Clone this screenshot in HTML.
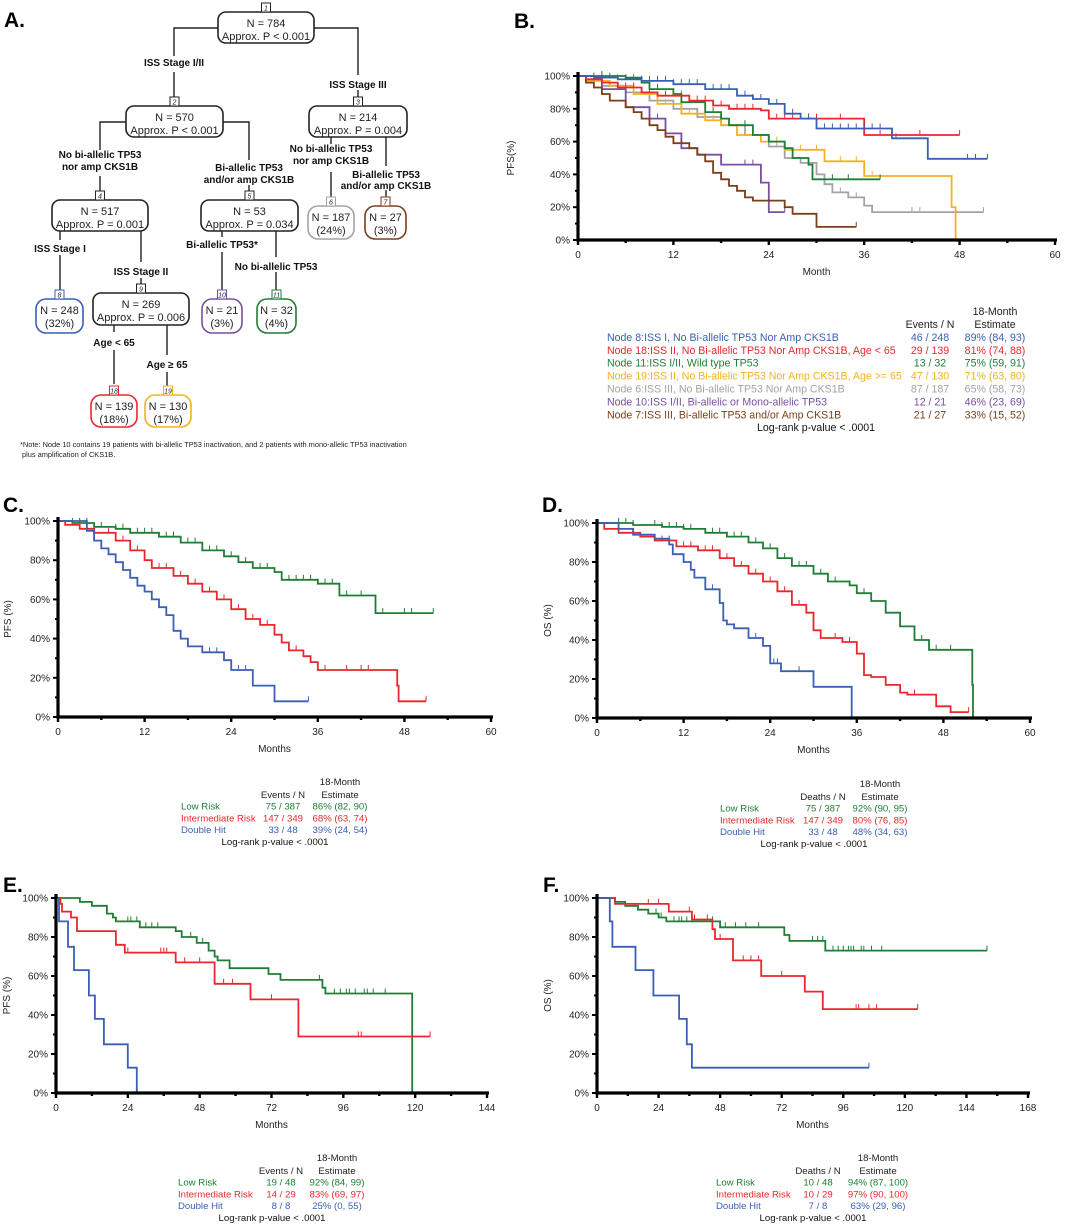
<!DOCTYPE html>
<html><head><meta charset="utf-8"><style>
html,body{margin:0;padding:0;background:#fff;}
svg{display:block;font-family:"Liberation Sans",Arial,sans-serif;}
.nb{font-size:11px;fill:#222;}
.bl{font-size:10px;font-weight:bold;fill:#111;}
.tk{font-size:10px;fill:#222;}
.lg{font-size:9.6px;}
.pl{font-size:21px;font-weight:bold;fill:#000;}
</style></head><body>
<svg id="fig" width="1080" height="1224" viewBox="0 0 1080 1224">
<g id="tree" stroke="#222" stroke-width="1.4" fill="none"></g>
<g id="charts"></g>
<text class="pl" x="4" y="27">A.</text>
<text class="pl" x="514" y="28">B.</text>
<text class="pl" x="3" y="512">C.</text>
<text class="pl" x="542" y="512">D.</text>
<text class="pl" x="3" y="892">E.</text>
<text class="pl" x="543" y="892">F.</text>
<text x="20" y="447" style="font-size:7.4px" fill="#222">*Note: Node 10 contains 19 patients with bi-allelic TP53 inactivation, and 2 patients with mono-allelic TP53 inactivation</text>
<text x="22" y="457" style="font-size:7.4px" fill="#222">plus amplification of CKS1B.</text>
</svg>
<script>
// ---- Colors ----
const C={blue:"#3a5fb4",red:"#e8282c",green:"#1f7d35",orange:"#f4b120",gray:"#a3a3a3",purple:"#7a4fa3",brown:"#7b3f1b"};
// ---- Panel B data (months, %) ----
const bBlueT=[2,5,8,12,16,20,22,24,26,28,30,39.5,44];
const bBlueS=[99,98,97,95,92,88,86,83,77,74,68,62,49.5];
const bBlueC=[2,3,4,5,6,7,8,9,10,11,12,13,14,15,16,17,18,19,20,21,22,23,25,27,29,31,32,33,34,35,36,37,38,40,49,50,51.5];
const bRedT=[1,3,5,8,10,14,17,19,23,24,36];
const bRedS=[98,96,93,90,88,85,82,80,79,74,64];
const bRedC=[6,7,9,11,12,13,15,16,18,20,21,22,25,26,27,28,29,30,33,38,43,48];
const bGreenT=[6,8,9,12,13,16,18,19,22,24,26,27,29,29.5];
const bGreenS=[99,96,92,89,84,78,74,70,64,60,56,50,46,37];
const bGreenC=[3,10,14,17,21,32,34,38];
const bOrangeT=[1,4,7,10,13,16,18,20,23,26,31,36,47,47.5];
const bOrangeS=[97,94,89,83,77,73,70,64,60,55,48,39,20,0];
const bOrangeC=[11,14,17,22,25,28,30,33,35,37,47.5];
const bGrayT=[1,3,6,9,12,15,18,21,24,26,28,30,31,32,34,36,37];
const bGrayS=[98,94,90,85,80,75,70,64,57,50,47,40,34,29,26,21,17];
const bGrayC=[8,13,16,19,22,25,27,29,33,35,42,43,51];
const bPurpleT=[3,6,9,11,13,15,18,23,24];
const bPurpleS=[92,81,74,65,56,52,46,35,17];
const bPurpleC=[10,14,21,22,26];
const bBrownT=[1,2,3,4,6,7,8,9,10,11,12,14,15,16,17,18,19,20,21,22,26,27,30];
const bBrownS=[96,93,89,85,81,78,74,70,67,63,59,56,52,48,41,37,33,30,26,24,20,16,8];
const bBrownC=[13,17,21,35];
// ---- Panel C ----
const cGreenT=[2,5,8,10,14,17,20,23,25,27,30,31,36,39,44];
const cGreenS=[99,97,96,94,92,89,85,82,79,76,74,70,68,62,53];
const cGreenC=[2,3,4,6,8,9,11,12,13,15,16,18,19,21,22,24,25,26,28,29,31,32,33,34,35,36,37,38,40,42,45,48,49,52];
const cRedT=[1,3,5,8,10,12,13,16,18,20,22,24,26,28,30,31,32,34,35,36,47,47.2];
const cRedS=[98,96,94,90,85,80,76,72,68,64,60,55,50,47,42,38,34,31,28,24,16,8];
const cRedC=[5,7,9,11,13,14,15,17,19,21,23,25,27,29,31,33,35,37,40,42,43,51];
const cBlueT=[4,5,6,7,8,9,10,11,12,13,14,15,16,17,18,20,23,24,27,30];
const cBlueS=[95,90,86,83,79,75,71,67,64,60,56,52,44,40,36,33,29,24,16,8];
const cBlueC=[9,16,20,21,22,25,26,34.7];
// ---- Panel D ----
const dGreenT=[5,9,12,15,18,21,23,25,27,30,32,35,36,38,40,42,44,46,52,52.1];
const dGreenS=[99,98,97,95,93,90,87,82,78,74,70,68,64,60,54,47,40,35,17,0];
const dGreenC=[3,4,5,8,9,10,11,12,13,16,17,18,19,20,21,22,24,25,26,28,29,31,33,35,37,38,42,45,47,49];
const dRedT=[1,3,6,8,11,14,17,19,21,23,25,27,29,30,31,34,36,37,38,40,42,43,47,49];
const dRedS=[97,95,93,91,88,86,82,78,74,70,65,58,54,45,41,39,33,22,21,17,13,12,6,3];
const dRedC=[5,8,9,10,12,13,15,16,18,20,22,24,26,28,31,33,35,44,51.5];
const dBlueT=[3,5,8,10,10.5,12,13,13.5,15,17,17.5,18,19,21,23,24,25.5,30,35.3];
const dBlueS=[97,94,92,89,84,80,76,72,66,59,50,48,46,41,37,28,24,16,0];
const dBlueC=[16,19,22,24.5,25,28,35.3];
// ---- Panel E ----
const eGreenT=[3,8,12,17,19,20,28,40,42,47,51,53,54,58,71,75,89,90,119];
const eGreenS=[100,98,96,92,90,88,85,83,80,77,73,70,68,64,61,58,54,51,0];
const eGreenC=[24,25,27,28,30,32,34,45,49,58,88,93,95,97,98,100,103,104,106,110];
const eRedT=[1.5,2,5,7,20,23,40,53,65,81];
const eRedS=[97,93,90,83,76,72,67,56,48,29];
const eRedC=[24,35,36,37,43,48,56,59,72,101,102,125];
const eBlueT=[1,4,6,11,13,16,24,27];
const eBlueS=[88,75,63,50,38,25,13,0];
const eBlueC=[];
// ---- Panel F ----
const fGreenT=[7,11,16,20,24,27,48,73,75,89];
const fGreenS=[98,96,94,92,90,88,85,81,78,73];
const fGreenC=[23,25,30,32,33,35,45,50,54,58,63,84,86,88,92,94,96,98,99,100,103,104,107,111,152];
const fRedT=[7,28,37,45,46,53,64,81,88];
const fRedS=[97,93,89,84,79,68,60,52,43];
const fRedC=[20,24,36,37,38,43,48,57,60,63,72,101,102,106,109,125];
const fBlueT=[5,6,15,22,32,35,37];
const fBlueS=[88,75,63,50,38,25,13];
const fBlueC=[106];

const NS="http://www.w3.org/2000/svg";
function el(tag,attrs,parent,txt){const e=document.createElementNS(NS,tag);for(const k in attrs)e.setAttribute(k,attrs[k]);if(txt!==undefined)e.textContent=txt;parent.appendChild(e);return e;}
const charts=document.getElementById('charts');

function survAt(T,S,t){let s=100;for(let i=0;i<T.length;i++){if(T[i]<=t)s=S[i];}return s;}

function panel(p){
  const g=el('g',{},charts);
  
  
  const xs=v=>p.x0+(p.x1-p.x0)*v/p.xmax;
  const ys=v=>p.y0+(p.y100-p.y0)*v/100;
  p.series.forEach(s=>{
    let d='M'+xs(0)+','+ys(100);
    for(let i=0;i<s.T.length;i++){d+=' H'+xs(s.T[i]).toFixed(1)+' V'+ys(s.S[i]).toFixed(1);}
    const end=s.C.length?Math.max(s.C[s.C.length-1],s.T[s.T.length-1]):s.T[s.T.length-1];
    d+=' H'+xs(end).toFixed(1);
    const path=el('path',{d:d,fill:'none',stroke:s.col,'stroke-width':1.8},g);
    
    
    s.C.forEach(t=>{
      const y=ys(survAt(s.T,s.S,t));
      const tk=el('line',{x1:xs(t),x2:xs(t),y1:y,y2:y-5,stroke:s.col,'stroke-width':1},g);
      
      
    });
  });
  const ax=el('path',{d:'M'+xs(0)+','+(p.y100-4)+' V'+p.y0+' H'+(p.x1+2),fill:'none',stroke:'#000','stroke-width':3.2},g);
  
  
  for(let v=0;v<=100;v+=10){
    const major=v%20===0;
    el('line',{x1:xs(0)-(major?5:3),x2:xs(0),y1:ys(v),y2:ys(v),stroke:'#000','stroke-width':2},g);
    if(major){const t=el('text',{x:xs(0)-8,y:ys(v)+3.5,'text-anchor':'end',class:'tk'},g,v+'%');
      
      }
  }
  for(let k=0;k<=p.xticks.length*2-2;k++){
    const v=p.xstep/2*k;const major=k%2===0;
    el('line',{x1:xs(v),x2:xs(v),y1:p.y0,y2:p.y0+(major?5:3),stroke:'#000','stroke-width':2.4},g);
  }
  p.xticks.forEach(v=>{const t=el('text',{x:xs(v),y:p.y0+18,'text-anchor':'middle',class:'tk'},g,v);
    
    });
  const xt=el('text',{x:(xs(0)+xs(p.xmax))/2,y:p.y0+35,'text-anchor':'middle',class:'tk'},g,p.xlab);
  
  
  const yx=p.ylabX, yy=(p.y0+p.y100)/2;
  const yt=el('text',{x:yx,y:yy,'text-anchor':'middle',class:'tk',transform:'rotate(-90 '+yx+' '+yy+')'},g,p.ylab);
  
  
  const L=p.leg;
  const lg=el('g',{class:'lg',style:'font-size:'+(L.fs||9.6)+'px'},g);
  
  
  el('text',{x:L.sc,y:L.y-13,'text-anchor':'middle',fill:'#222'},lg,'18-Month');
  el('text',{x:L.ec,y:L.y,'text-anchor':'middle',fill:'#222'},lg,L.h);
  el('text',{x:L.sc,y:L.y,'text-anchor':'middle',fill:'#222'},lg,'Estimate');
  L.rows.forEach((r,i)=>{
    const y=L.y+L.dy*(i+1);
    const a=el('text',{x:L.lx,y:y,fill:r[0]},lg,r[1]);
    
    
    el('text',{x:L.ec,y:y,'text-anchor':'middle',fill:r[0]},lg,r[2]);
    el('text',{x:L.sc,y:y,'text-anchor':'middle',fill:r[0]},lg,r[3]);
  });
  el('text',{x:L.pc,y:L.y+L.dy*(L.rows.length+1),'text-anchor':'middle',fill:'#111'},lg,'Log-rank p-value < .0001');
}
const risk=(a,b,c)=>[[C.green,'Low Risk',a[0],a[1]],[C.red,'Intermediate Risk',b[0],b[1]],[C.blue,'Double Hit',c[0],c[1]]];

panel({name:'panel-b-pfs-by-node',x0:578,x1:1055,xmax:60,y0:240,y100:76,xstep:12,xticks:[0,12,24,36,48,60],xlab:'Month',ylab:'PFS(%)',ylabX:514,
 series:[{nm:'node-6',T:bGrayT,S:bGrayS,C:bGrayC,col:C.gray},{nm:'node-19',T:bOrangeT,S:bOrangeS,C:bOrangeC,col:C.orange},{nm:'node-11',T:bGreenT,S:bGreenS,C:bGreenC,col:C.green},{nm:'node-10',T:bPurpleT,S:bPurpleS,C:bPurpleC,col:C.purple},{nm:'node-7',T:bBrownT,S:bBrownS,C:bBrownC,col:C.brown},{nm:'node-18',T:bRedT,S:bRedS,C:bRedC,col:C.red},{nm:'node-8',T:bBlueT,S:bBlueS,C:bBlueC,col:C.blue}],
 leg:{y:328,dy:12.9,fs:10.6,lx:607,ec:930,sc:995,pc:816,h:'Events / N',rows:[
  [C.blue,'Node 8:ISS I, No Bi-allelic TP53 Nor Amp CKS1B','46 / 248','89% (84, 93)'],
  [C.red,'Node 18:ISS II, No Bi-allelic TP53 Nor Amp CKS1B, Age < 65','29 / 139','81% (74, 88)'],
  [C.green,'Node 11:ISS I/II, Wild type TP53','13 / 32','75% (59, 91)'],
  [C.orange,'Node 19:ISS II, No Bi-allelic TP53 Nor Amp CKS1B, Age >= 65','47 / 130','71% (63, 80)'],
  [C.gray,'Node 6:ISS III, No Bi-allelic TP53 Nor Amp CKS1B','87 / 187','65% (58, 73)'],
  [C.purple,'Node 10:ISS I/II, Bi-allelic or Mono-allelic TP53','12 / 21','46% (23, 69)'],
  [C.brown,'Node 7:ISS III, Bi-allelic TP53 and/or Amp CKS1B','21 / 27','33% (15, 52)']]}});

panel({name:'panel-c-pfs-risk',x0:58,x1:491,xmax:60,y0:717,y100:521,xstep:12,xticks:[0,12,24,36,48,60],xlab:'Months',ylab:'PFS (%)',ylabX:11,
 series:[{nm:'low-risk',T:cGreenT,S:cGreenS,C:cGreenC,col:C.green},{nm:'intermediate-risk',T:cRedT,S:cRedS,C:cRedC,col:C.red},{nm:'double-hit',T:cBlueT,S:cBlueS,C:cBlueC,col:C.blue}],
 leg:{y:798,dy:11.7,lx:181,ec:283,sc:340,pc:275,h:'Events / N',rows:risk(['75 / 387','86% (82, 90)'],['147 / 349','68% (63, 74)'],['33 / 48','39% (24, 54)'])}});

panel({name:'panel-d-os-risk',x0:597,x1:1030,xmax:60,y0:718,y100:523,xstep:12,xticks:[0,12,24,36,48,60],xlab:'Months',ylab:'OS  (%)',ylabX:551,
 series:[{nm:'low-risk',T:dGreenT,S:dGreenS,C:dGreenC,col:C.green},{nm:'intermediate-risk',T:dRedT,S:dRedS,C:dRedC,col:C.red},{nm:'double-hit',T:dBlueT,S:dBlueS,C:dBlueC,col:C.blue}],
 leg:{y:800,dy:11.7,lx:720,ec:823,sc:880,pc:814,h:'Deaths / N',rows:risk(['75 / 387','92% (90, 95)'],['147 / 349','80% (76, 85)'],['33 / 48','48% (34, 63)'])}});

panel({name:'panel-e-pfs-risk',x0:56,x1:487,xmax:144,y0:1093,y100:898,xstep:24,xticks:[0,24,48,72,96,120,144],xlab:'Months',ylab:'PFS (%)',ylabX:10,
 series:[{nm:'low-risk',T:eGreenT,S:eGreenS,C:eGreenC,col:C.green},{nm:'intermediate-risk',T:eRedT,S:eRedS,C:eRedC,col:C.red},{nm:'double-hit',T:eBlueT,S:eBlueS,C:eBlueC,col:C.blue}],
 leg:{y:1174,dy:11.7,lx:178,ec:281,sc:337,pc:272,h:'Events / N',rows:risk(['19 / 48','92% (84, 99)'],['14 / 29','83% (69, 97)'],['8 / 8','25% (0, 55)'])}});

panel({name:'panel-f-os-risk',x0:597,x1:1028,xmax:168,y0:1093,y100:898,xstep:24,xticks:[0,24,48,72,96,120,144,168],xlab:'Months',ylab:'OS  (%)',ylabX:551,
 series:[{nm:'low-risk',T:fGreenT,S:fGreenS,C:fGreenC,col:C.green},{nm:'intermediate-risk',T:fRedT,S:fRedS,C:fRedC,col:C.red},{nm:'double-hit',T:fBlueT,S:fBlueS,C:fBlueC,col:C.blue}],
 leg:{y:1174,dy:11.7,lx:716,ec:818,sc:878,pc:813,h:'Deaths / N',rows:risk(['10 / 48','94% (87, 100)'],['10 / 29','97% (90, 100)'],['7 / 8','63% (29, 96)'])}});

// ---- Tree ----
const tree=document.getElementById('tree');
function line(d){el('path',{d:d},tree);}
function node(id,x1,x2,y1,y2,col,l1,l2,rx,name){
  const r=el('rect',{x:x1,y:y1,width:x2-x1,height:y2-y1,rx:rx,stroke:col,'stroke-width':1.6,fill:'#fff'},tree);
  
  
  const cx=(x1+x2)/2;
  el('rect',{x:cx-4.5,y:y1-9,width:9,height:9,stroke:col,'stroke-width':1,fill:'#fff'},tree);
  el('text',{x:cx,y:y1-1.5,'text-anchor':'middle',style:'font-size:7px;font-style:italic',fill:'#222',stroke:'none'},tree,id);
  el('text',{x:cx,y:y1+15,'text-anchor':'middle',class:'nb',stroke:'none'},tree,l1);
  el('text',{x:cx,y:y1+28,'text-anchor':'middle',class:'nb',stroke:'none'},tree,l2);
}
function lab(x,y,t){const e=el('text',{x:x,y:y,'text-anchor':'middle',class:'bl',stroke:'none'},tree,t);
  
  }
line('M218,28 H174 V56 M174,72 V97');
line('M314,28 H358 V75 M358,90 V97');
line('M126,122 H100 V150 M100,176 V191');
line('M223,122 H249 V160 M249,185 V191');
line('M331,137 V144 M331,172 V198');
line('M386,137 V166 M386,190 V198');
line('M60,231 V240 M60,255 V290');
line('M141,231 V262 M141,278 V284');
line('M222,231 V237 M222,252 V290');
line('M276,231 V257 M276,272 V290');
line('M114,325 V332 M114,350 V384');
line('M167,325 V355 M167,372 V386');
lab(174,66,'ISS Stage I/II');
lab(358,88,'ISS Stage III');
lab(100,158,'No bi-allelic TP53');lab(100,170,'nor amp CKS1B');
lab(249,171,'Bi-allelic TP53');lab(249,183,'and/or amp CKS1B');
lab(331,152,'No bi-allelic TP53');lab(331,164,'nor amp CKS1B');
lab(386,178,'Bi-allelic TP53');lab(386,189,'and/or amp CKS1B');
lab(60,252,'ISS Stage I');
lab(141,275,'ISS Stage II');
lab(222,248,'Bi-allelic TP53*');
lab(276,270,'No bi-allelic TP53');
lab(114,346,'Age < 65');
lab(167,368,'Age ≥ 65');
node('1',218,314,12,43,'#222','N = 784','Approx. P < 0.001',8,'node-1');
node('2',126,223,106,137,'#222','N = 570','Approx. P < 0.001',8,'node-2');
node('3',309,407,106,137,'#222','N = 214','Approx. P = 0.004',8,'node-3');
node('4',52,148,200,231,'#222','N = 517','Approx. P = 0.001',8,'node-4');
node('5',201,298,200,231,'#222','N = 53','Approx. P = 0.034',8,'node-5');
node('6',308,354,206,239,C.gray,'N = 187','(24%)',10,'node-6');
node('7',365,406,206,239,C.brown,'N = 27','(3%)',10,'node-7');
node('8',36,83,299,333,C.blue,'N = 248','(32%)',10,'node-8');
node('9',93,189,293,325,'#222','N = 269','Approx. P = 0.006',8,'node-9');
node('10',202,242,299,333,C.purple,'N = 21','(3%)',10,'node-10');
node('11',257,296,299,333,C.green,'N = 32','(4%)',10,'node-11');
node('18',91,137,395,427,C.red,'N = 139','(18%)',10,'node-18');
node('19',145,191,395,427,C.orange,'N = 130','(17%)',10,'node-19');
</script>
</body></html>
